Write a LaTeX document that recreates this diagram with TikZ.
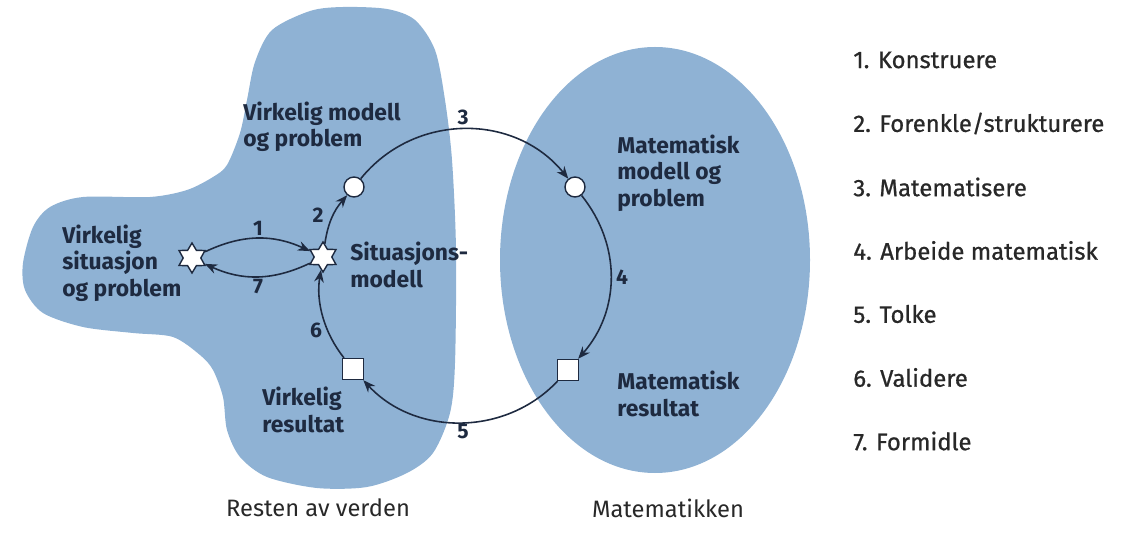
\documentclass[tikz,border=0pt]{standalone}
\usepackage{fontspec}
\setmainfont{Fira Sans}
\newfontfamily\legendfont{Fira Sans}[FakeBold=0.8]
\usetikzlibrary{shapes.geometric,arrows.meta}
\definecolor{blobblue}{RGB}{143,178,212}
\definecolor{inkblue}{RGB}{30,42,64}
\definecolor{legendgray}{RGB}{40,40,40}
\tikzset{
  stage/.style={font=\bfseries\fontsize{13}{15}\selectfont,text=inkblue,align=left,anchor=west,inner sep=0pt},
  numlabel/.style={font=\bfseries\fontsize{12}{14}\selectfont,text=inkblue,inner sep=0pt},
  region/.style={font=\fontsize{13.5}{16}\selectfont,text=legendgray,inner sep=0pt},
  legend/.style={font=\legendfont\fontsize{13.6}{16}\selectfont,text=legendgray,anchor=west,inner sep=0pt},
  starnode/.style={star,star points=6,star point ratio=1.7,draw=inkblue,fill=white,line width=0.8pt,minimum size=0.6cm,inner sep=0pt},
  ringnode/.style={circle,draw=inkblue,fill=white,line width=0.8pt,minimum size=0.4cm,inner sep=0pt},
  boxnode/.style={rectangle,draw=inkblue,fill=white,line width=0.8pt,minimum size=0.42cm,inner sep=0pt},
  arr/.style={draw=inkblue,line width=0.9pt,-{Stealth[length=7pt,width=5.5pt]}}
}
\begin{document}
\begin{tikzpicture}[x=0.02cm,y=0.02cm]
  \useasboundingbox (0,0) rectangle (1132,-533);
  % the two worlds
  \fill[blobblue] plot[smooth cycle,tension=0.5] coordinates {
    (272,-30) (310,-11) (343,-7) (387,-9) (415,-20) (435,-50) (445,-100)
    (452,-160) (456,-250) (455,-363) (450,-413) (433,-453) (407,-473)
    (367,-487) (317,-488) (267,-477) (240,-457) (227,-430) (223,-397)
    (213,-370) (200,-355) (173,-337) (133,-333) (83,-327) (43,-313)
    (25,-290) (23,-263) (33,-227) (50,-207) (83,-197) (150,-197)
    (187,-190) (213,-177) (227,-165) (240,-133) (247,-100) (255,-62)};
  \fill[blobblue] (655,-260) ellipse [x radius=155,y radius=213];
  % states
  \node[starnode] (vs) at (192,-258) {};
  \node[starnode] (sm) at (323,-257) {};
  \node[ringnode] (vm) at (354,-187) {};
  \node[ringnode] (mm) at (575,-187) {};
  \node[boxnode] (mr) at (568,-370) {};
  \node[boxnode] (vr) at (353,-369) {};
  % texts
  \node[stage] (tvm) at (243,-127) {Virkelig modell\\og problem};
  \node[stage] (tmm) at (617,-173) {Matematisk\\modell og\\problem};
  \node[stage] (tsm) at (350,-265) {Situasjons-\\modell};
  \node[stage] (tvs) at (62,-263) {Virkelig\\situasjon\\og problem};
  \node[stage] (tvr) at (262,-410) {Virkelig\\resultat};
  \node[stage] (tmr) at (617,-394) {Matematisk\\resultat};
  \node[region] (rv) at (318,-508) {Resten av verden};
  \node[region] (rm) at (668,-508) {Matematikken};
  % step numbers
  \node[numlabel] (n1) at (258,-228) {1};
  \node[numlabel] (n2) at (318,-215) {2};
  \node[numlabel] (n3) at (463,-117) {3};
  \node[numlabel] (n4) at (622,-277) {4};
  \node[numlabel] (n5) at (463,-432) {5};
  \node[numlabel] (n6) at (316,-330) {6};
  \node[numlabel] (n7) at (258,-287) {7};
  % legend
  \node[legend] (l1) at (853,-60) {1. Konstruere};
  \node[legend] (l2) at (853,-123.5) {2. Forenkle/strukturere};
  \node[legend] (l3) at (853,-187) {3. Matematisere};
  \node[legend] (l4) at (853,-250.5) {4. Arbeide matematisk};
  \node[legend] (l5) at (853,-314) {5. Tolke};
  \node[legend] (l6) at (853,-377.5) {6. Validere};
  \node[legend] (l7) at (853,-441) {7. Formidle};
  \begin{scope}[arr]
    \draw (vs) to[bend left=25] (sm);
    \draw (sm) to[bend left=25] (vs);
    \draw (sm) to[bend left=16] (vm);
    \draw (vm) to[bend left=51,looseness=1.05] (mm);
    \draw (mm) to[bend left=40] (mr);
    \draw (mr) to[bend left=47] (vr);
    \draw (vr) to[bend left=24,looseness=0.9] (sm);
  \end{scope}
\end{tikzpicture}
\end{document}
